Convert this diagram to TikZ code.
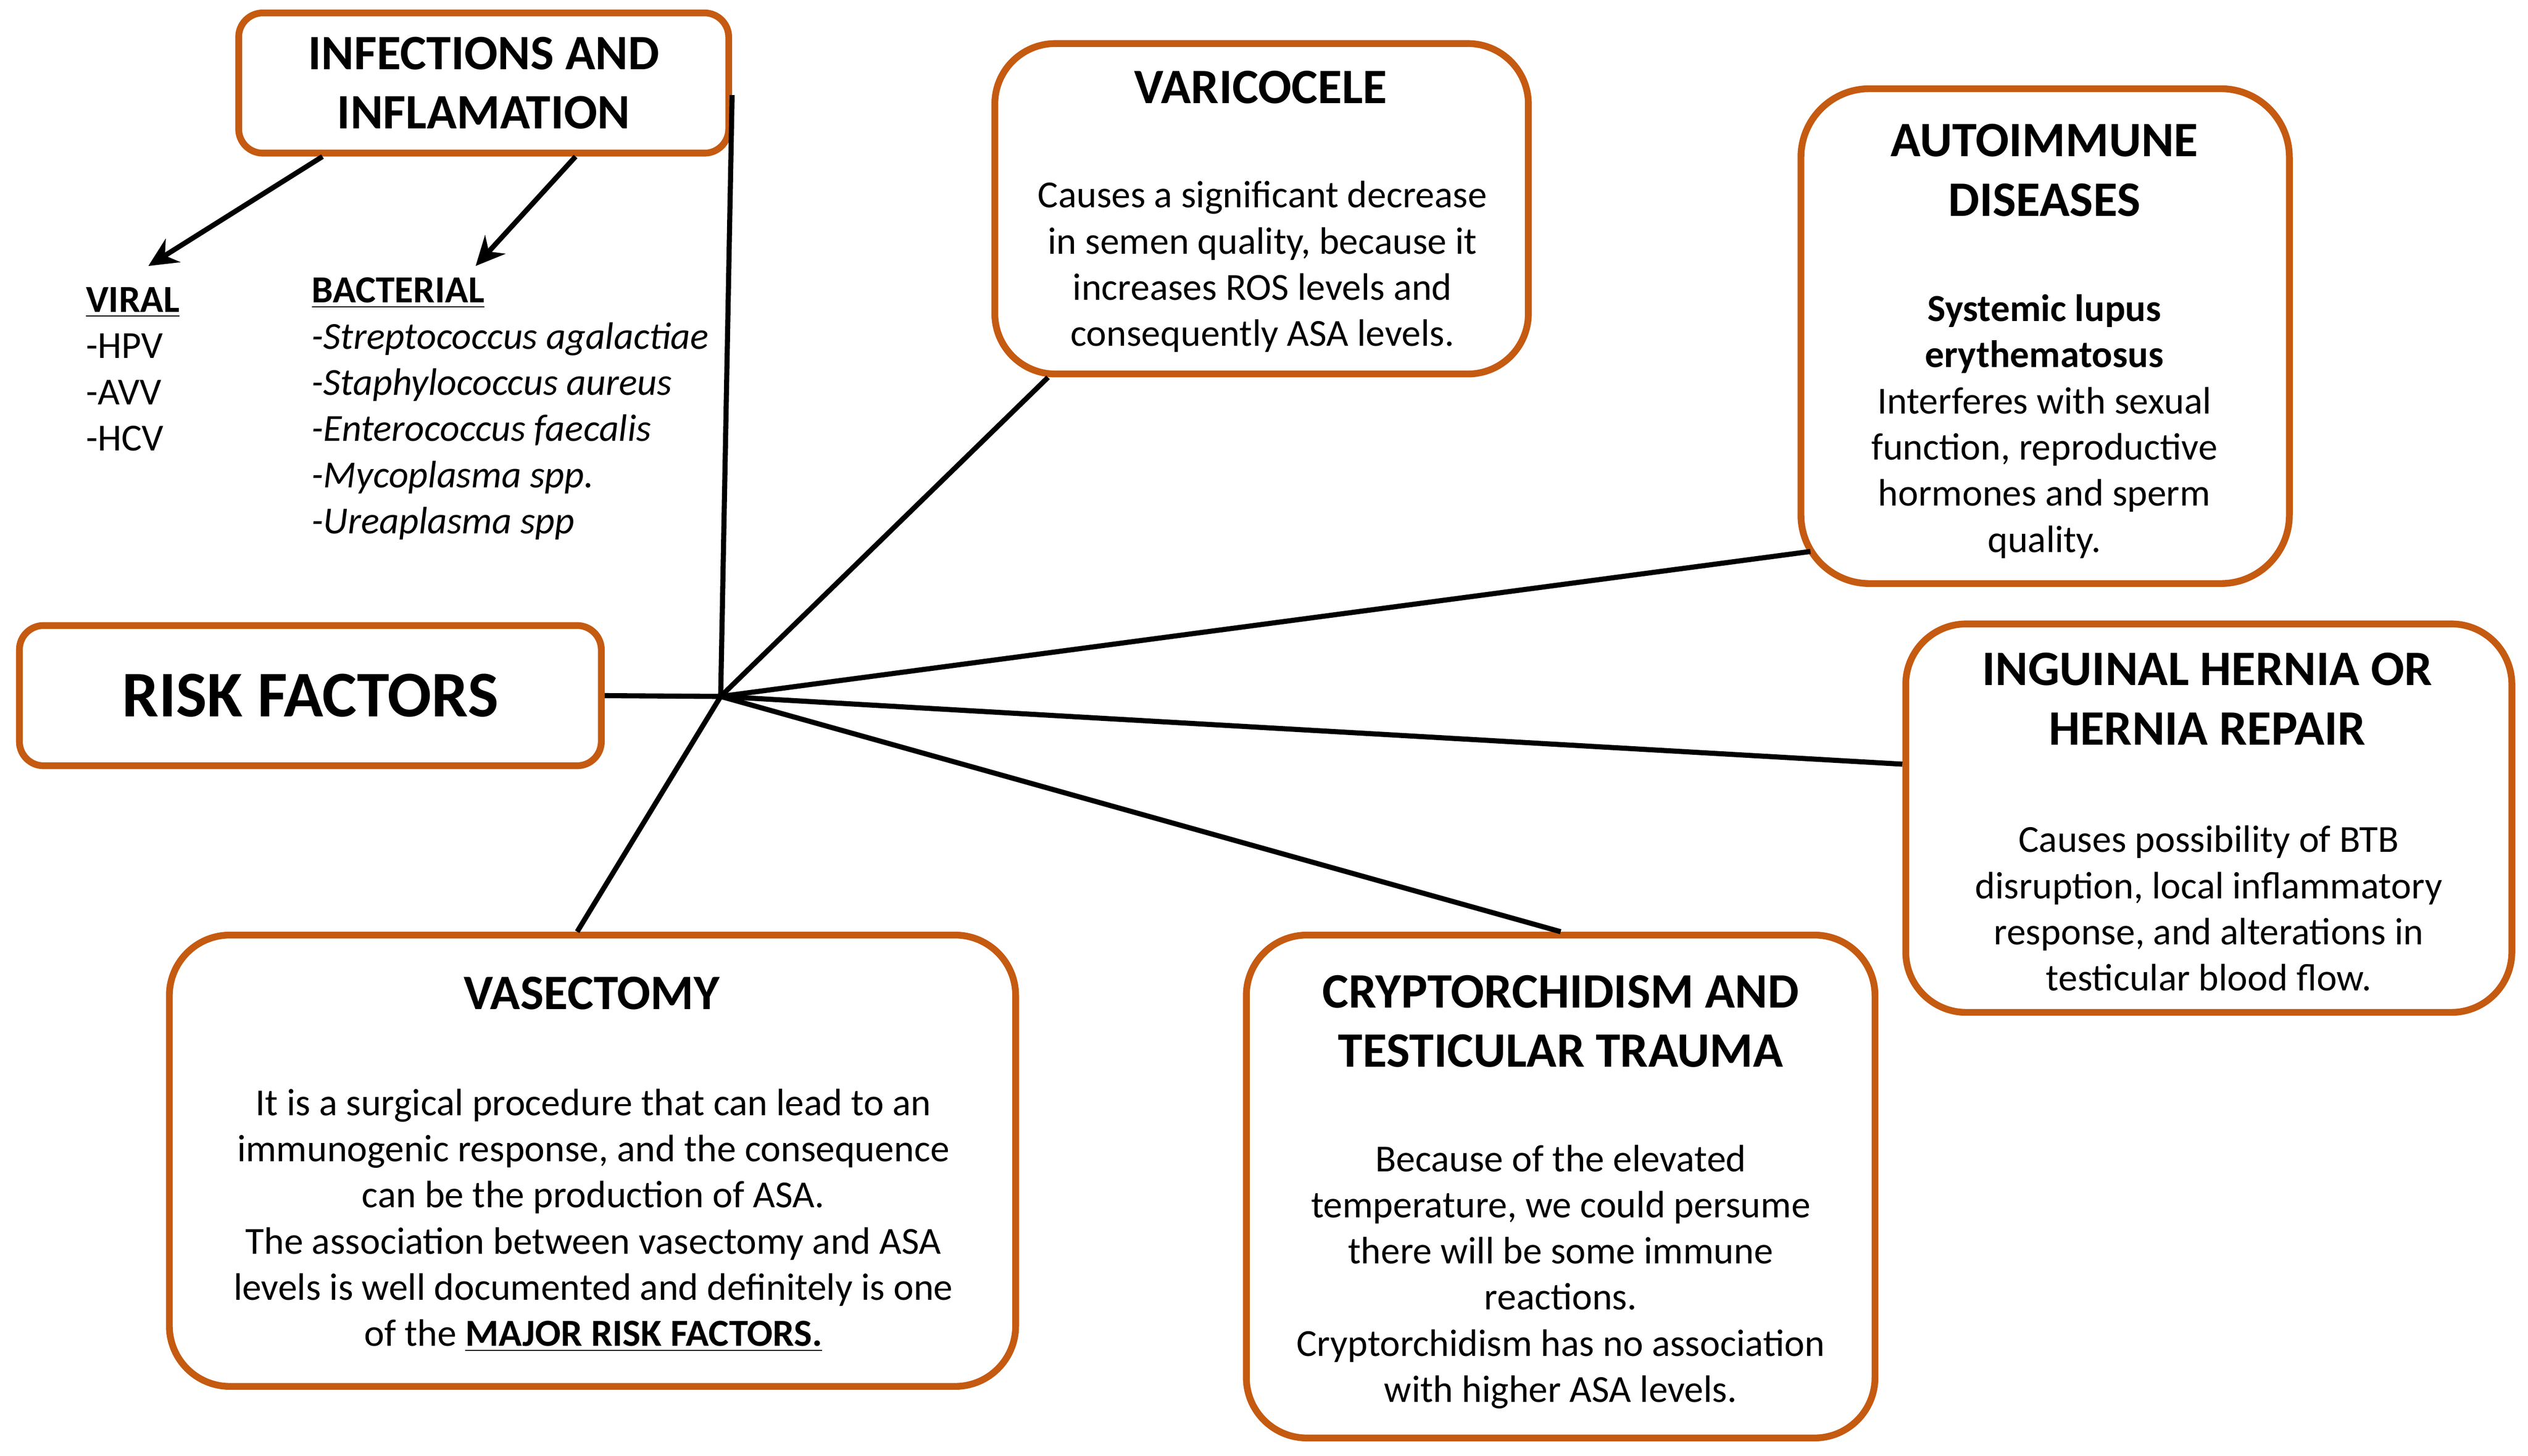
\documentclass[tikz,border=0pt]{standalone}
\usepackage{fontspec}
\setmainfont{Carlito}
\usetikzlibrary{arrows.meta}

\definecolor{boxorange}{HTML}{C55A11}

\begin{document}
\begin{tikzpicture}[x=0.02cm,y=-0.02cm,
  factor/.style={draw=boxorange,line width=2.4pt,rounded corners=0.75cm,fill=white},
  headtext/.style={font=\fontsize{17.5}{21}\selectfont\bfseries,align=center,inner sep=0pt},
  bodytext/.style={font=\fontsize{13.5}{16.3}\selectfont,align=center,inner sep=0pt},
  listtext/.style={font=\fontsize{13.5}{16.3}\selectfont,align=left,inner sep=0pt,anchor=west},
  link/.style={line width=1.8pt}]

\useasboundingbox (0,0) rectangle (1568,903);

% Centre of the spokes
\coordinate (hub) at (447,432);

% Main box and infections box
\node[factor,rounded corners=0.3cm,minimum width=7.22cm,minimum height=1.74cm,font=\fontsize{23}{28}\selectfont\bfseries] (risk) at (192.5,431.5) {RISK FACTORS};
\node[factor,headtext,rounded corners=0.3cm,minimum width=6.08cm,minimum height=1.74cm] (infect) at (300,51.5) {INFECTIONS AND\\INFLAMATION};

% Infection types
\node[listtext] (viral) at (53,229) {\underline{\textbf{VIRAL}}\\-HPV\\-AVV\\-HCV};
\node[listtext] (bact) at (193,253.5) {\underline{\textbf{BACTERIAL}}\\\textit{-Streptococcus agalactiae}\\\textit{-Staphylococcus aureus}\\\textit{-Enterococcus faecalis}\\\textit{-Mycoplasma spp.}\\\textit{-Ureaplasma spp}};
\coordinate (viraltip) at (92,165);
\coordinate (bacttip) at (295,165);
\draw[link,-{Stealth[length=0.36cm,width=0.34cm]}] ([xshift=-2cm]infect.south) -- (viraltip);
\draw[link,-{Stealth[length=0.36cm,width=0.34cm]}] ([xshift=1.14cm]infect.south) -- (bacttip);

% Varicocele
\node[factor,minimum width=6.62cm,minimum height=4.1cm] (varic) at (782.5,129.5) {};
\node[headtext] (varicT) at (782,54) {VARICOCELE};
\node[bodytext] (varicB) at (783,165.5) {Causes a significant decrease\\in semen quality, because it\\increases ROS levels and\\consequently ASA levels.};

% Autoimmune diseases
\node[factor,rounded corners=0.85cm,minimum width=6.06cm,minimum height=6.14cm] (auto) at (1268.5,208.5) {};
\node[headtext] (autoT) at (1268,105.5) {AUTOIMMUNE\\DISEASES};
\node[bodytext] (autoB) at (1268,264.5) {\textbf{Systemic lupus}\\\textbf{erythematosus}\\Interferes with sexual\\function, reproductive\\hormones and sperm\\quality.};

% Inguinal hernia
\node[factor,minimum width=7.52cm,minimum height=4.82cm] (ingu) at (1370,507.5) {};
\node[headtext] (inguT) at (1369,433.5) {INGUINAL HERNIA OR\\HERNIA REPAIR};
\node[bodytext] (inguB) at (1370,563.5) {Causes possibility of BTB\\disruption, local inflammatory\\response, and alterations in\\testicular blood flow.};

% Cryptorchidism
\node[factor,minimum width=7.8cm,minimum height=6.24cm] (crypt) at (968,736) {};
\node[headtext] (cryptT) at (968,633.5) {CRYPTORCHIDISM AND\\TESTICULAR TRAUMA};
\node[bodytext] (cryptB) at (968,792) {Because of the elevated\\temperature, we could persume\\there will be some immune\\reactions.\\Cryptorchidism has no association\\with higher ASA levels.};

% Vasectomy
\node[factor,minimum width=10.5cm,minimum height=5.6cm] (vasec) at (367.5,720) {};
\node[headtext] (vasecT) at (367,616) {VASECTOMY};
\node[bodytext] (vasecB) at (368,757) {It is a surgical procedure that can lead to an\\immunogenic response, and the consequence\\can be the production of ASA.\\The association between vasectomy and ASA\\levels is well documented and definitely is one\\of the \underline{\textbf{MAJOR RISK FACTORS.}}};

% Spokes
\draw[link] (risk.east) -- (hub);
\draw[link] (hub) -- ([yshift=-0.15cm]infect.east);
\draw[link] (hub) -- ([xshift=-2.65cm]varic.south);
\draw[link] (hub) -- ([xshift=0.16cm,yshift=0.44cm]auto.south west);
\draw[link] (hub) -- ([yshift=0.67cm]ingu.west);
\draw[link] (hub) -- (crypt.north);
\draw[link] (hub) -- ([xshift=-0.19cm]vasec.north);

\end{tikzpicture}
\end{document}
